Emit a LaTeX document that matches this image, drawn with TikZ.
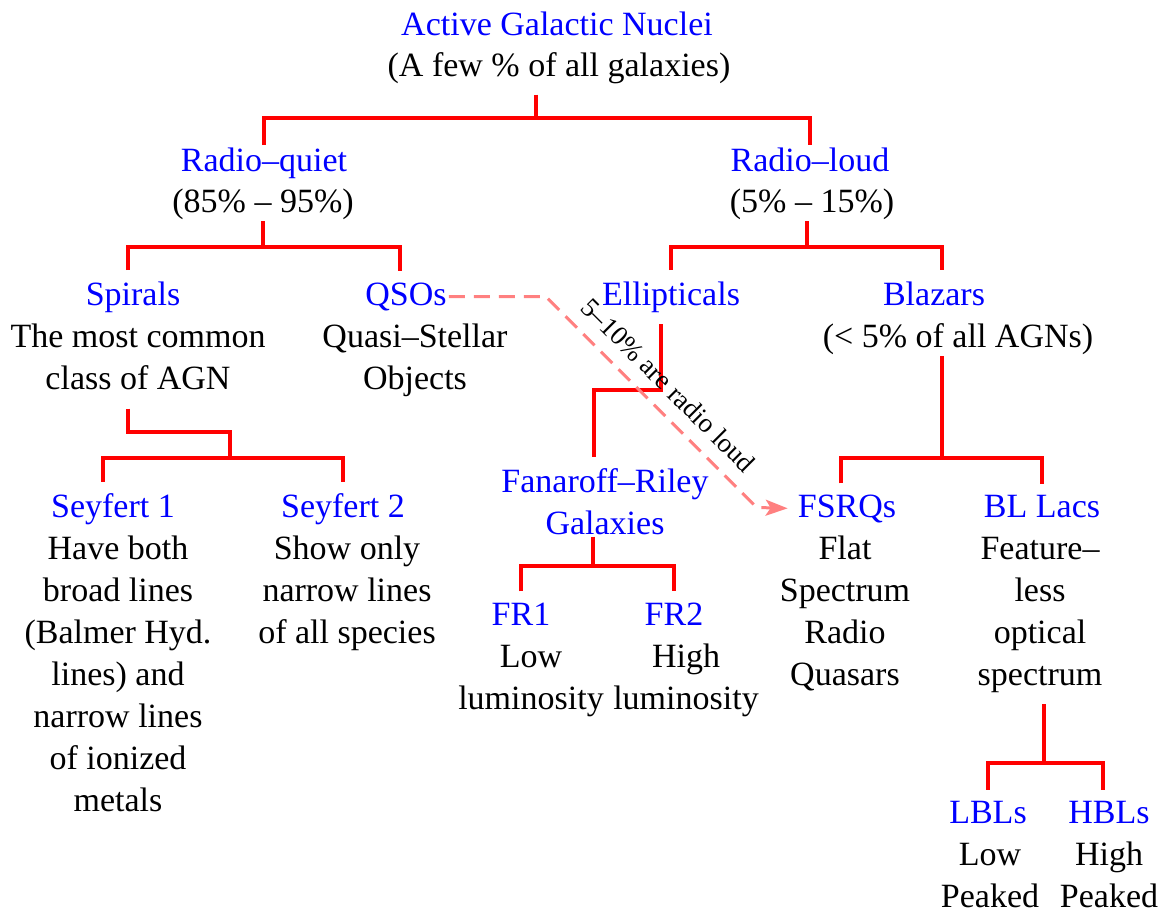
\documentclass[tikz,border=0pt]{standalone}
\usepackage{fontspec}
\setmainfont{Liberation Serif}
\usepackage{xcolor}
\definecolor{Col1}{RGB}{0,0,255}
\definecolor{Col2}{RGB}{255,0,0}
\definecolor{Col3}{RGB}{255,128,128}
\usepackage{tikz}
\usetikzlibrary{arrows.meta}
\tikzstyle{Title}=[anchor=base,text=Col1,inner sep=2pt,align=center,
font=\fontsize{34}{42}\selectfont]
\tikzstyle{Desc}=[anchor=base,inner sep=2pt,align=center,
font=\fontsize{34}{42}\selectfont]
\tikzstyle{Edge}=[draw=Col2,line width=3.3pt]
\tikzstyle{Kids}=[Edge,shorten <=9pt,shorten >=9pt]
\tikzstyle{Dash}=[draw=Col3,line width=3pt,dash pattern=on 16pt off 9pt,
-{Stealth[length=22pt,width=16pt,inset=5pt]},shorten >=8pt]
\tikzstyle{Lbl}=[sloped,above=9pt,inner sep=4pt,text=black,
font=\fontsize{27}{32}\selectfont]

\begin{document}
\begin{tikzpicture}[x=1pt,y=-1pt]
        \useasboundingbox(0,0)rectangle(1173,913);
        % titles (base = last line)
        \node[Title](agn)at(557,35){Active Galactic Nuclei};
        \node[Title](rq)at(264,171){Radio--quiet};
        \node[Title](rl)at(810,171){Radio--loud};
        \node[Title](sp)at(133,305){Spirals};
        \node[Title](qso)at(406,305){QSOs};
        \node[Title](ell)at(671,305){Ellipticals};
        \node[Title](blz)at(934,305){Blazars};
        \node[Title](sy1)at(113,517){Seyfert 1};
        \node[Title](sy2)at(343,517){Seyfert 2};
        \node[Title](fr)at(605,534){Fanaroff--Riley\\Galaxies};
        \node[Title](fsrq)at(847,517){FSRQs};
        \node[Title](bll)at(1042,517){BL Lacs};
        \node[Title](fr1)at(521,625){FR1};
        \node[Title](fr2)at(674,625){FR2};
        \node[Title](lbl)at(988,823){LBLs};
        \node[Title](hbl)at(1109,823){HBLs};
        % descriptions (base = last line)
        \node[Desc](agnd)at(559,76){(A few \% of all galaxies)};
        \node[Desc](rqd)at(263,212){(85\% -- 95\%)};
        \node[Desc](rld)at(812,212){(5\% -- 15\%)};
        \node[Desc](spd)at(138,389){The most common\\class of AGN};
        \node[Desc](qsod)at(415,389){Quasi--Stellar\\Objects};
        \node[Desc](blzd)at(958,347){(< 5\% of all AGNs)};
        \node[Desc](sy1d)at(118,811){Have both\\broad lines\\(Balmer Hyd.\\lines) and\\narrow lines\\of ionized\\metals};
        \node[Desc](sy2d)at(347,643){Show only\\narrow lines\\of all species};
        \node[Desc](fsrqd)at(845,685){Flat\\Spectrum\\Radio\\Quasars};
        \node[Desc](blld)at(1040,685){Feature--\\less\\optical\\spectrum};
        \node[Desc](fr1d)at(531,709){Low\\luminosity};
        \node[Desc](fr2d)at(686,709){High\\luminosity};
        \node[Desc](lbld)at(990,907){Low\\Peaked};
        \node[Desc](hbld)at(1109,907){High\\Peaked};
        % branch points
        \coordinate(b0)at(536,118);
        \coordinate(b1)at(263,247);
        \coordinate(b2)at(807,247);
        \coordinate(b3)at(230,458);
        \coordinate(b4)at(594,390);
        \coordinate(b5)at(942,458);
        \coordinate(b6)at(593,566);
        \coordinate(b7)at(1044,763);
        \draw[Edge,shorten <=9pt](agnd.south-|b0)--(b0);
        \draw[Edge](rq.north)|-(b0)-|(rl.north);
        \draw[Edge](rqd.south-|b1)--(b1);
        \draw[Kids]([xshift=-5pt]sp.north)|-(b1)-|([xshift=-6pt]qso.north);
        \draw[Edge](rld.south-|b2)--(b2);
        \draw[Kids](ell.north)|-(b2)-|([xshift=8pt]blz.north);
        \draw[Edge,shorten <=17pt]([xshift=-10pt]spd.south)|-([yshift=26pt]b3)--(b3);
        \draw[Kids]([xshift=-10pt]sy1.north)|-(b3)-|(sy2.north);
        \draw[Edge,shorten <=10pt,shorten >=9pt]([xshift=-10pt]ell.south)|-(b4)--(b4|-fr.north);
        \draw[Edge](fr.south-|b6)--(b6);
        \draw[Kids](fr1.north)|-(b6)-|(fr2.north);
        \draw[Edge](blzd.south-|b5)--(b5);
        \draw[Kids]([xshift=-6pt]fsrq.north)|-(b5)-|(bll.north);
        \draw[Edge,shorten <=10pt](blld.south-|b7)--(b7);
        \draw[Kids](lbl.north)|-(b7)-|([xshift=-6pt]hbl.north);
        % radio loud QSOs
        \draw[Dash](qso.east)--++(97,0)
                --node[Lbl]{5--10\% are radio loud}++(211,211)--(fsrq.west);
    \end{tikzpicture}
\end{document}
